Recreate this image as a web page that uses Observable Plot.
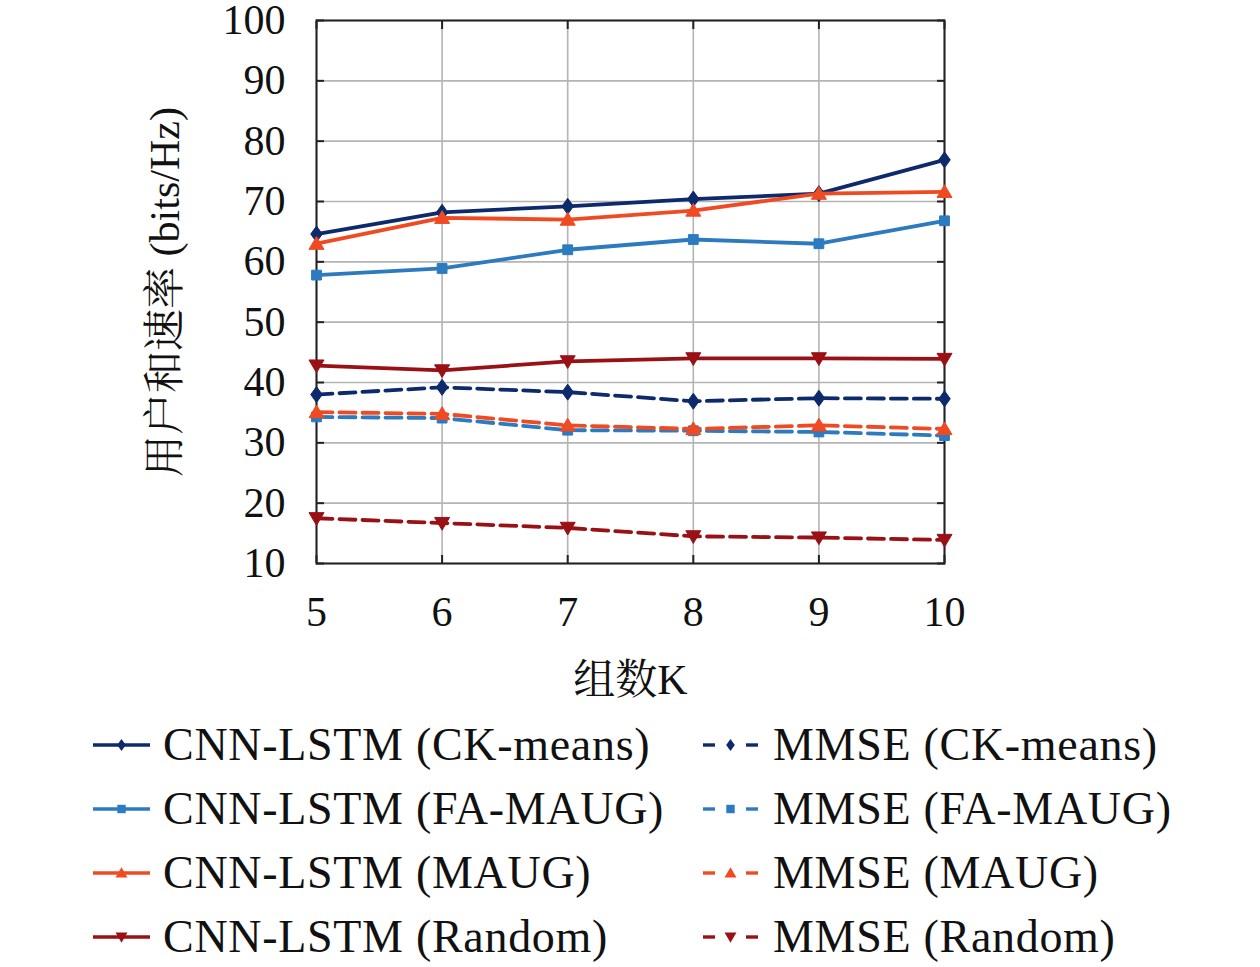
<!DOCTYPE html>
<html><head><meta charset="utf-8">
<script src="https://cdn.jsdelivr.net/npm/d3@7"></script>
<script src="https://cdn.jsdelivr.net/npm/@observablehq/plot@0.6"></script>
<style>
body{margin:0;background:#fff;}
#legend{position:relative;width:1260px;height:257px;}
.item{position:absolute;height:64px;line-height:64px;color:#111;white-space:nowrap;font-size:46px;letter-spacing:0.7px;}
.sw{position:absolute;}
</style></head><body><div id="chart"></div><div id="legend"></div>
<script>
const groups = [5, 6, 7, 8, 9, 10];
const yTicks = [10, 20, 30, 40, 50, 60, 70, 80, 90, 100];
const cnnCK = [64.6, 68.2, 69.2, 70.4, 71.3, 76.9];
const cnnFA = [57.8, 58.9, 62.0, 63.7, 63.0, 66.8];
const cnnMAUG = [63.0, 67.3, 67.0, 68.5, 71.3, 71.6];
const cnnRandom = [42.8, 42.0, 43.5, 44.0, 44.0, 43.9];
const mmseCK = [38.0, 39.2, 38.4, 36.9, 37.4, 37.3];
const mmseFA = [34.3, 34.1, 32.1, 32.0, 31.8, 31.2];
const mmseMAUG = [35.1, 34.8, 32.9, 32.3, 32.9, 32.3];
const mmseRandom = [17.5, 16.7, 15.9, 14.5, 14.3, 13.9];
const xLabel = "组数K";
const yLabel = "用户和速率 (bits/Hz)";

const font = `"Liberation Serif", "Noto Serif CJK SC", "Noto Sans CJK SC", serif`;

// marker shapes
const rOf = s => Math.sqrt(s / Math.PI);
const symDiamond = {draw(c, s) { const r = rOf(s); c.moveTo(0, -r); c.lineTo(r * 0.72, 0); c.lineTo(0, r); c.lineTo(-r * 0.72, 0); c.closePath(); }};
const symSquare = {draw(c, s) { const r = rOf(s) * 0.7; c.rect(-r, -r, 2 * r, 2 * r); }};
const symTriUp = {draw(c, s) { const r = rOf(s); c.moveTo(0, -r * 0.95); c.lineTo(r, r * 0.75); c.lineTo(-r, r * 0.75); c.closePath(); }};
const symTriDown = {draw(c, s) { const r = rOf(s); c.moveTo(0, r * 0.95); c.lineTo(r, -r * 0.75); c.lineTo(-r, -r * 0.75); c.closePath(); }};

const C_CK = "#0d2a6c", C_FA = "#2c7abf", C_MAUG = "#f04a22", C_RND = "#9a1115";

const series = [
  {name: "CNN-LSTM (CK-means)", values: cnnCK, color: C_CK, symbol: symDiamond, r: 8, dashed: false},
  {name: "CNN-LSTM (FA-MAUG)", values: cnnFA, color: C_FA, symbol: symSquare, r: 7, dashed: false},
  {name: "CNN-LSTM (MAUG)", values: cnnMAUG, color: C_MAUG, symbol: symTriUp, r: 7.5, dashed: false},
  {name: "CNN-LSTM (Random)", values: cnnRandom, color: C_RND, symbol: symTriDown, r: 7.5, dashed: false},
  {name: "MMSE (CK-means)", values: mmseCK, color: C_CK, symbol: symDiamond, r: 8, dashed: true},
  {name: "MMSE (FA-MAUG)", values: mmseFA, color: C_FA, symbol: symSquare, r: 7, dashed: true},
  {name: "MMSE (MAUG)", values: mmseMAUG, color: C_MAUG, symbol: symTriUp, r: 7.5, dashed: true},
  {name: "MMSE (Random)", values: mmseRandom, color: C_RND, symbol: symTriDown, r: 7.5, dashed: true}
];

const seriesMarks = [];
for (const s of series) {
  const data = groups.map((g, i) => ({k: g, v: s.values[i]}));
  seriesMarks.push(Plot.line(data, {x: "k", y: "v", stroke: s.color, strokeWidth: 3.8, strokeDasharray: s.dashed ? "16,7" : null, strokeLinejoin: "round"}));
  seriesMarks.push(Plot.dot(data, {x: "k", y: "v", symbol: s.symbol, r: s.r, fill: s.color, stroke: s.color, strokeWidth: 1}));
}

const chart = Plot.plot({
  width: 1260, height: 710,
  marginLeft: 316, marginRight: 316, marginTop: 20, marginBottom: 147,
  style: {fontFamily: font, background: "#fff", color: "#111", overflow: "visible"},
  x: {domain: [5, 10]},
  y: {domain: [10, 100]},
  marks: [
    Plot.gridX(groups, {stroke: "#b4b4b4", strokeOpacity: 1, strokeWidth: 1.6}),
    Plot.gridY(yTicks, {stroke: "#b4b4b4", strokeOpacity: 1, strokeWidth: 1.6}),
    Plot.axisY(yTicks, {anchor: "left", tickSize: 8, dx: 8, fill: "none", stroke: "#222", strokeWidth: 2, label: null}),
    Plot.axisY(yTicks, {anchor: "right", tickSize: 8, dx: -8, fill: "none", stroke: "#222", strokeWidth: 2, label: null}),
    Plot.axisX(groups, {anchor: "bottom", tickSize: 8, dy: -8, fill: "none", stroke: "#222", strokeWidth: 2, label: null}),
    Plot.axisX(groups, {anchor: "top", tickSize: 8, dy: 8, fill: "none", stroke: "#222", strokeWidth: 2, label: null}),
    Plot.axisY(yTicks, {anchor: "left", tickSize: 0, tickPadding: 31, fontSize: 42, label: null, tickFormat: d => String(d)}),
    Plot.axisX(groups, {anchor: "bottom", tickSize: 0, tickPadding: 33, fontSize: 42, label: null, tickFormat: d => String(d)}),
    Plot.frame({stroke: "#222", strokeWidth: 2}),
    ...seriesMarks,
    Plot.text([xLabel], {frameAnchor: "bottom", dy: 117, fontSize: 42, fill: "#111", textAnchor: "middle", lineAnchor: "middle"}),
    Plot.text([yLabel], {frameAnchor: "left", dx: -151, rotate: -90, fontSize: 42, fill: "#111", textAnchor: "middle", lineAnchor: "middle", ariaLabel: "ylabel"})
  ]
});
document.getElementById("chart").appendChild(chart);
d3.select(chart).selectAll('g[aria-label="ylabel"] text').style("letter-spacing", "3px");

// legend
const legend = d3.select("#legend").style("font-family", font);
series.forEach((s, i) => {
  const col = s.dashed ? 1 : 0;
  const row = i % 4;
  const cy = 35 + row * 64;
  const swLeft = col ? 703 : 93;
  const txLeft = col ? 773 : 163;
  const svg = legend.append("svg").attr("class", "sw").attr("width", 58).attr("height", 24)
    .style("left", swLeft + "px").style("top", (cy - 12) + "px");
  if (s.dashed) {
    svg.append("line").attr("x1", 0).attr("x2", 12).attr("y1", 12).attr("y2", 12).attr("stroke", s.color).attr("stroke-width", 3.4);
    svg.append("line").attr("x1", 43).attr("x2", 55).attr("y1", 12).attr("y2", 12).attr("stroke", s.color).attr("stroke-width", 3.4);
  } else {
    svg.append("line").attr("x1", 0).attr("x2", 57).attr("y1", 12).attr("y2", 12).attr("stroke", s.color).attr("stroke-width", 3.4);
  }
  svg.append("path").attr("transform", `translate(${s.dashed ? 27.5 : 28.5},12)`)
    .attr("d", d3.symbol().type(s.symbol).size(Math.PI * 36)()).attr("fill", s.color);
  legend.append("div").attr("class", "item")
    .style("left", txLeft + "px").style("top", (cy - 32) + "px")
    .text(s.name);
});
</script></body></html>
